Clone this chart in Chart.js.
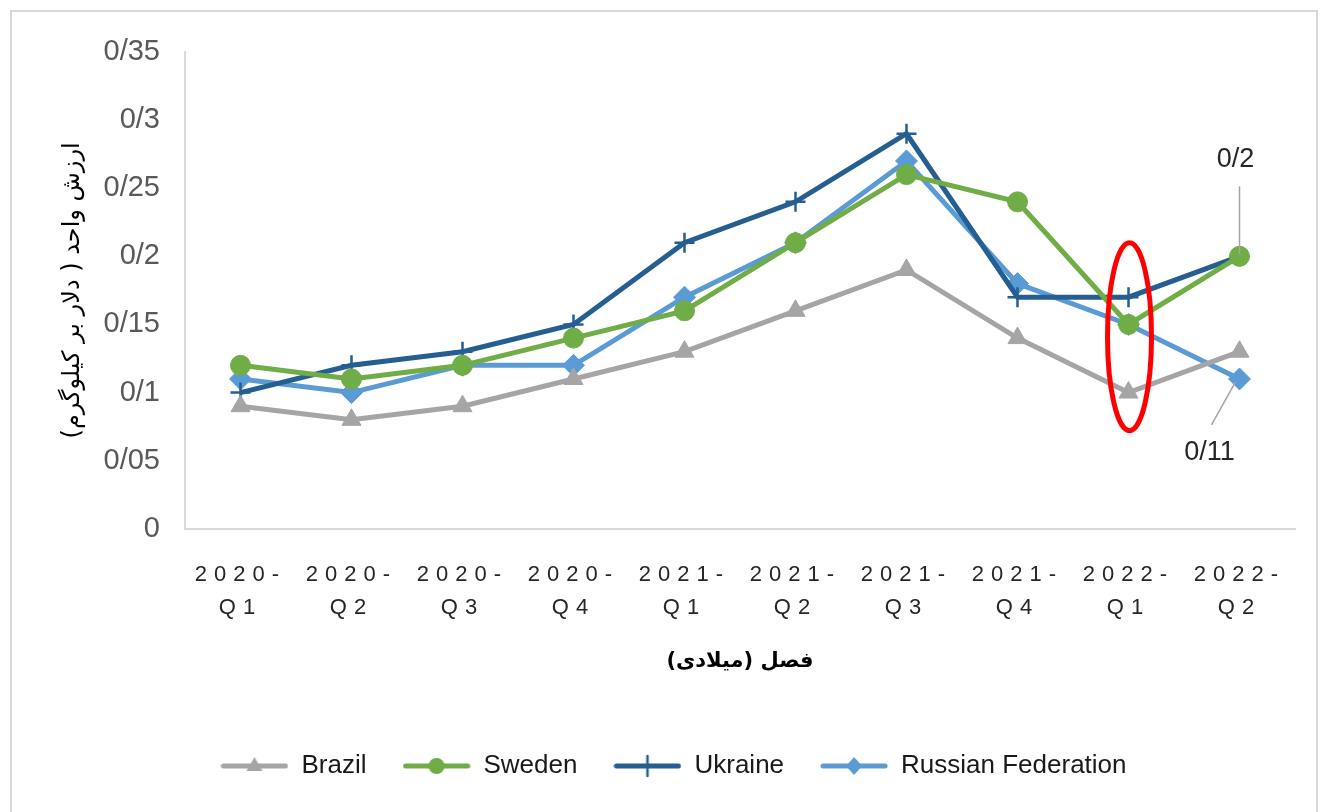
<!DOCTYPE html>
<html>
<head>
<meta charset="utf-8">
<script src="https://cdn.jsdelivr.net/npm/chart.js@4/dist/chart.umd.min.js"></script>
<style>
  body { margin: 0; background: #ffffff; }
  #wrap { position: relative; width: 1330px; height: 812px; overflow: hidden; }
  #frame { position: absolute; left: 10px; top: 10px; width: 1308px; height: 810px; border: 2px solid #d9d9d9; box-sizing: border-box; }
  canvas { position: absolute; left: 0; top: 0; }
</style>
</head>
<body>
<div id="wrap">
  <div id="frame"></div>
  <canvas id="chart" width="1330" height="812"></canvas>
</div>
<script>
// categorías del eje x (dos líneas por etiqueta)
var quarters = [
    ['2020-', 'Q1'], ['2020-', 'Q2'], ['2020-', 'Q3'], ['2020-', 'Q4'],
    ['2021-', 'Q1'], ['2021-', 'Q2'], ['2021-', 'Q3'], ['2021-', 'Q4'],
    ['2022-', 'Q1'], ['2022-', 'Q2']
];

// valores de cada serie
var brazil = [0.09, 0.08, 0.09, 0.11, 0.13, 0.16, 0.19, 0.14, 0.10, 0.13];
var sweden = [0.12, 0.11, 0.12, 0.14, 0.16, 0.21, 0.26, 0.24, 0.15, 0.20];
var ukraine = [0.10, 0.12, 0.13, 0.15, 0.21, 0.24, 0.29, 0.17, 0.17, 0.20];
var russia = [0.11, 0.10, 0.12, 0.12, 0.17, 0.21, 0.27, 0.18, 0.15, 0.11];

// etiquetas del eje y (separador decimal persa "/")
var yTickLabels = ['0', '0/05', '0/1', '0/15', '0/2', '0/25', '0/3', '0/35'];

var yTitle = 'ارزش واحد ( دلار بر کیلوگرم)';
var xTitle = 'فصل (میلادی)';

// etiquetas de datos y la elipse roja
var labelTop = { index: 9, value: 0.20, text: '0/2' };
var labelBottom = { index: 9, value: 0.11, text: '0/11' };
var ellipseMark = { index: 8, low: 0.072, high: 0.21 };

var latin = '"Liberation Sans", Arial, sans-serif';
var persian = '"DejaVu Sans", "Noto Sans", sans-serif';

// muestra de leyenda: línea con su marcador
function legendSample(color, style) {
    var c = document.createElement('canvas');
    c.width = 68;
    c.height = 24;
    var g = c.getContext('2d');
    g.strokeStyle = color;
    g.lineWidth = 5;
    g.lineCap = 'round';
    g.beginPath();
    g.moveTo(3, 12);
    g.lineTo(65, 12);
    g.stroke();
    g.fillStyle = color;
    g.beginPath();
    if (style === 'triangle') {
        g.moveTo(34, 3); g.lineTo(42, 17); g.lineTo(26, 17); g.closePath(); g.fill();
    } else if (style === 'circle') {
        g.arc(34, 12, 8, 0, Math.PI * 2); g.fill();
    } else if (style === 'cross') {
        g.lineWidth = 2.5;
        g.moveTo(34, 2); g.lineTo(34, 22); g.stroke();
    } else {
        g.moveTo(34, 3); g.lineTo(42, 12); g.lineTo(34, 21); g.lineTo(26, 12); g.closePath(); g.fill();
    }
    return c;
}

var series = [
    { label: 'Brazil', data: brazil, color: '#a5a5a5', style: 'triangle', radius: 11, bw: 1 },
    { label: 'Sweden', data: sweden, color: '#70ad47', style: 'circle', radius: 10, bw: 1 },
    { label: 'Ukraine', data: ukraine, color: '#255e91', style: 'cross', radius: 10, bw: 2.5 },
    { label: 'Russian Federation', data: russia, color: '#5b9bd5', style: 'rectRot', radius: 11, bw: 1 }
];

var datasets = series.map(function (s) {
    return {
        label: s.label,
        data: s.data,
        borderColor: s.color,
        backgroundColor: s.color,
        borderWidth: 5,
        tension: 0,
        pointStyle: s.style,
        pointRadius: s.radius,
        pointBorderWidth: s.bw,
        pointBackgroundColor: s.color,
        pointBorderColor: s.color,
        legendImage: legendSample(s.color, s.style)
    };
});

// dibuja la elipse roja y las etiquetas 0/2 y 0/11
var notesPlugin = {
    id: 'notes',
    afterLayout: function (chart) {
        // la leyenda del original está algo desplazada a la derecha
        chart.legend.left += 26;
        chart.legend.right += 26;
    },
    afterDatasetsDraw: function (chart) {
        var ctx = chart.ctx;
        var x = chart.scales.x;
        var y = chart.scales.y;
        ctx.save();

        var ex = x.getPixelForValue(ellipseMark.index);
        var eTop = y.getPixelForValue(ellipseMark.high);
        var eBot = y.getPixelForValue(ellipseMark.low);
        ctx.strokeStyle = '#ff0000';
        ctx.lineWidth = 5;
        ctx.beginPath();
        ctx.ellipse(ex + 1, (eTop + eBot) / 2, 22, (eBot - eTop) / 2, 0, 0, Math.PI * 2);
        ctx.stroke();

        ctx.strokeStyle = '#a5a5a5';
        ctx.lineWidth = 1.5;
        var tx = x.getPixelForValue(labelTop.index);
        var ty = y.getPixelForValue(labelTop.value);
        ctx.beginPath();
        ctx.moveTo(tx, ty - 2);
        ctx.lineTo(tx, ty - 70);
        ctx.stroke();

        var bx = x.getPixelForValue(labelBottom.index);
        var by = y.getPixelForValue(labelBottom.value);
        ctx.beginPath();
        ctx.moveTo(bx - 4, by + 3);
        ctx.lineTo(bx - 28, by + 46);
        ctx.stroke();

        ctx.fillStyle = '#262626';
        ctx.font = '27px ' + latin;
        ctx.textAlign = 'center';
        ctx.textBaseline = 'middle';
        ctx.fillText(labelTop.text, tx - 4, ty - 97);
        ctx.fillText(labelBottom.text, bx - 30, by + 74);
        ctx.restore();
    }
};

var chartInstance = new Chart(document.getElementById('chart').getContext('2d'), {
    type: 'line',
    data: { labels: quarters, datasets: datasets },
    plugins: [notesPlugin],
    options: {
        responsive: false,
        animation: false,
        layout: { padding: { left: 0, right: 35, top: 52, bottom: 23 } },
        plugins: {
            tooltip: { enabled: false },
            legend: {
                position: 'bottom',
                labels: {
                    usePointStyle: true,
                    pointStyleWidth: 68,
                    padding: 36,
                    color: '#1a1a1a',
                    font: { family: latin, size: 26 },
                    generateLabels: function (chart) {
                        return chart.data.datasets.map(function (ds, i) {
                            return {
                                text: ds.label,
                                pointStyle: ds.legendImage,
                                fillStyle: ds.borderColor,
                                strokeStyle: ds.borderColor,
                                lineWidth: 0,
                                fontColor: '#1a1a1a',
                                datasetIndex: i
                            };
                        });
                    }
                }
            }
        },
        scales: {
            x: {
                offset: true,
                grid: { display: false, drawTicks: false },
                border: { display: true, color: '#d9d9d9', width: 2 },
                ticks: {
                    color: '#262626',
                    font: { family: latin, size: 22, lineHeight: 1.5 },
                    padding: 30,
                    maxRotation: 0,
                    autoSkip: false
                },
                title: {
                    display: true,
                    text: xTitle,
                    color: '#000000',
                    font: { family: persian, size: 21, weight: 'bold' },
                    padding: { top: 23, bottom: 43 }
                },
                afterFit: function (scale) {
                    scale.height -= 29;
                    // espaciado entre letras de las etiquetas del eje x
                    if (!scale._spaced) {
                        var orig = scale.drawLabels;
                        scale.drawLabels = function (area) {
                            this.ctx.save();
                            this.ctx.letterSpacing = '7px';
                            orig.call(this, area);
                            this.ctx.restore();
                        };
                        scale._spaced = true;
                    }
                }
            },
            y: {
                min: 0,
                max: 0.35,
                grid: { display: false, drawTicks: false },
                border: { display: true, color: '#d9d9d9', width: 2 },
                ticks: {
                    stepSize: 0.05,
                    color: '#595959',
                    padding: 25,
                    font: { family: latin, size: 29 },
                    callback: function (value, index) {
                        return yTickLabels[index];
                    }
                },
                title: {
                    display: true,
                    text: yTitle,
                    color: '#000000',
                    font: { family: persian, size: 24 },
                    padding: { top: 58, bottom: 0 }
                },
                afterFit: function (scale) {
                    scale.width = 185;
                }
            }
        }
    }
});
</script>
</body>
</html>
